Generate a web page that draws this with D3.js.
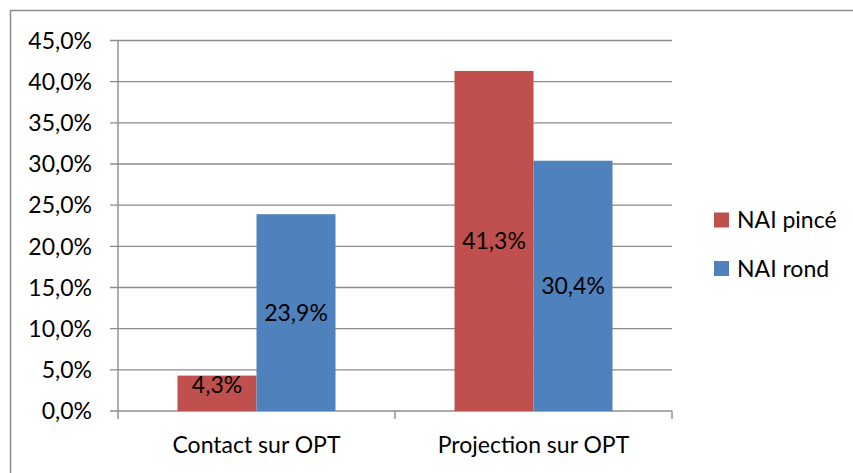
<!DOCTYPE html>
<html>
<head>
<meta charset="utf-8">
<script src="https://cdn.jsdelivr.net/npm/d3@7"></script>
<style>
  body { margin: 0; background: #fff; }
  text { font-family: Lato, "Open Sans", sans-serif; fill: #000; }
</style>
</head>
<body>
<div id="chart"></div>
<script>
// data
var categories = ["Contact sur OPT", "Projection sur OPT"]
var seriesNames = ["NAI pincé", "NAI rond"]
var pince = [4.3, 41.3]
var rond = [23.9, 30.4]
var yTicks = [0, 5, 10, 15, 20, 25, 30, 35, 40, 45]
var colors = ["#C0504D", "#4F81BD"]

var W = 853, H = 473
var margin = {top: 40.5, left: 118, right: 181, bottom: 62}
var width = W - margin.left - margin.right
var height = H - margin.top - margin.bottom
var fs = "23px"

var fmt = function(v) { return v.toFixed(1).replace(".", ",") + "%" }

var svg = d3.select("#chart").append("svg")
    .attr("width", W)
    .attr("height", H)

// outer chart frame (right/bottom edges fall outside the picture)
svg.append("rect")
    .attr("x", 10.5).attr("y", 10.5)
    .attr("width", W + 20).attr("height", H + 20)
    .attr("fill", "none")
    .attr("stroke", "#8c8c8c")
    .attr("stroke-width", 1.5)

var g = svg.append("g")
    .attr("transform", "translate(" + margin.left + "," + margin.top + ")")

var x0 = d3.scaleBand().domain(categories).range([0, width]).paddingInner(0).paddingOuter(0)
var x1 = d3.scaleBand().domain(seriesNames).range([59.5, x0.bandwidth() - 59.5])
var y = d3.scaleLinear().domain([0, 45]).range([height, 0])

// gridlines
g.selectAll(".grid")
    .data(yTicks)
  .enter().append("line")
    .attr("x1", -8).attr("x2", width)
    .attr("y1", function(d) { return y(d) }).attr("y2", function(d) { return y(d) })
    .attr("stroke", "#8c8c8c")
    .attr("stroke-width", 1.4)

// y axis labels
g.selectAll(".ylab")
    .data(yTicks)
  .enter().append("text")
    .attr("x", -26)
    .attr("y", function(d) { return y(d) })
    .attr("dy", "0.36em")
    .attr("text-anchor", "end")
    .style("font-size", fs)
    .text(fmt)

// y axis line
g.append("line")
    .attr("x1", 0).attr("x2", 0)
    .attr("y1", 0).attr("y2", height + 8)
    .attr("stroke", "#8c8c8c").attr("stroke-width", 1.4)

// category ticks
g.selectAll(".ctick")
    .data(categories)
  .enter().append("line")
    .attr("x1", function(d) { return x0(d) + x0.bandwidth() })
    .attr("x2", function(d) { return x0(d) + x0.bandwidth() })
    .attr("y1", height).attr("y2", height + 8)
    .attr("stroke", "#8c8c8c").attr("stroke-width", 1.4)

// bars
var rows = []
categories.forEach(function(c, i) {
    rows.push({cat: c, s: seriesNames[0], v: pince[i], col: colors[0]})
    rows.push({cat: c, s: seriesNames[1], v: rond[i], col: colors[1]})
})

g.selectAll(".bar")
    .data(rows)
  .enter().append("rect")
    .attr("x", function(d) { return x0(d.cat) + x1(d.s) })
    .attr("y", function(d) { return y(d.v) })
    .attr("width", x1.bandwidth())
    .attr("height", function(d) { return height - y(d.v) })
    .attr("fill", function(d) { return d.col })

// value labels, centred in bar (small bars: label kept near the top)
g.selectAll(".vlab")
    .data(rows)
  .enter().append("text")
    .attr("x", function(d) { return x0(d.cat) + x1(d.s) + x1.bandwidth() / 2 })
    .attr("y", function(d) { return Math.min((y(d.v) + height) / 2, height - 26) })
    .attr("dy", "0.36em")
    .attr("text-anchor", "middle")
    .style("font-size", fs)
    .text(function(d) { return fmt(d.v) })

// category labels
g.selectAll(".xlab")
    .data(categories)
  .enter().append("text")
    .attr("x", function(d) { return x0(d) + x0.bandwidth() / 2 })
    .attr("y", height + 42)
    .attr("text-anchor", "middle")
    .style("font-size", fs)
    .text(function(d) { return d })

// legend
var leg = svg.selectAll(".leg")
    .data(seriesNames)
  .enter().append("g")
    .attr("transform", function(d, i) { return "translate(714," + (220 + i * 48.5) + ")" })

leg.append("rect")
    .attr("x", 0).attr("y", -7.5)
    .attr("width", 15).attr("height", 15)
    .attr("fill", function(d, i) { return colors[i] })

leg.append("text")
    .attr("x", 23).attr("y", 0)
    .attr("dy", "0.36em")
    .style("font-size", fs)
    .text(function(d) { return d })
</script>
</body>
</html>
